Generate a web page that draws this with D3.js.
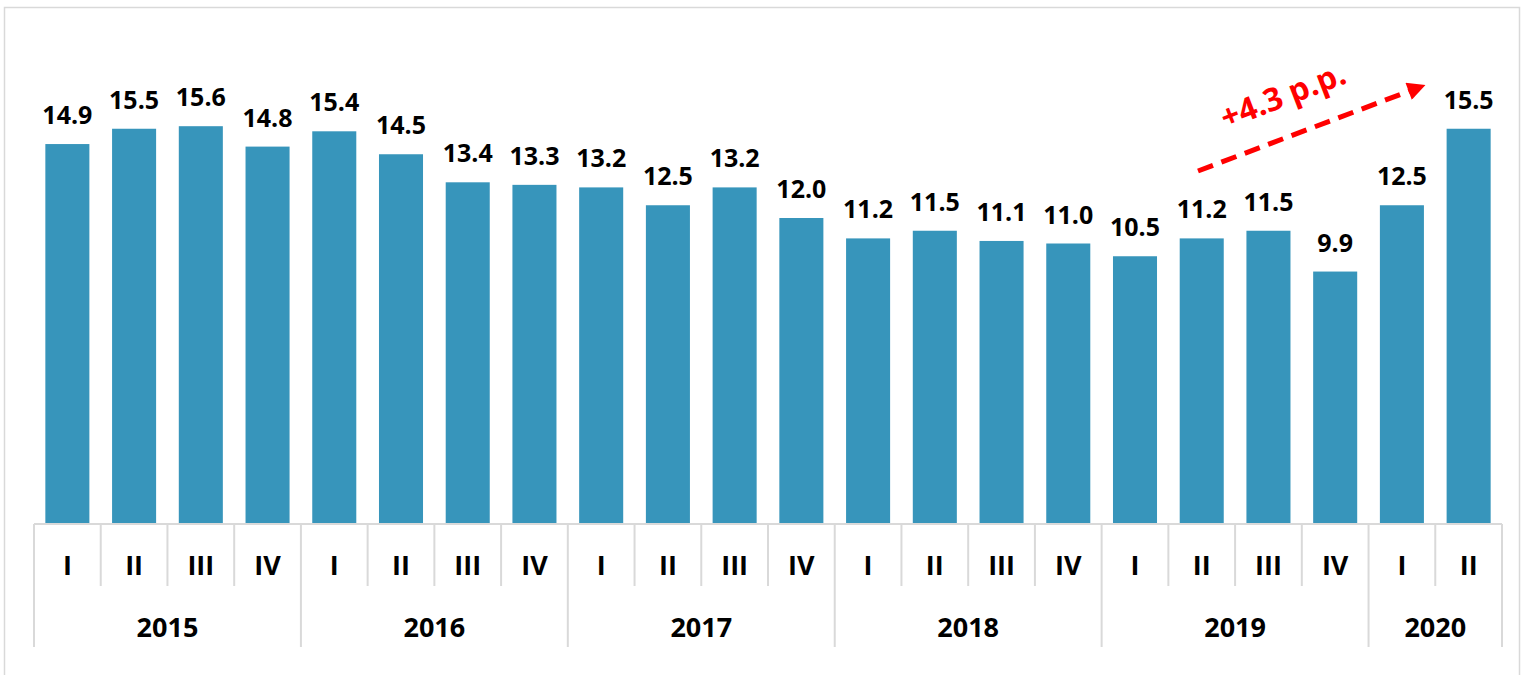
<!DOCTYPE html>
<html><head><meta charset="utf-8">
<script src="https://cdn.jsdelivr.net/npm/d3@7"></script>
<style>body{margin:0;background:#fff;}svg{display:block;}</style>
</head><body>
<script>
const years = ["2015","2016","2017","2018","2019","2020"];
const quarters = ["I","II","III","IV","I","II","III","IV","I","II","III","IV","I","II","III","IV","I","II","III","IV","I","II"];
const quarterYears = ["2015","2015","2015","2015","2016","2016","2016","2016","2017","2017","2017","2017","2018","2018","2018","2018","2019","2019","2019","2019","2020","2020"];
const values = [14.9,15.5,15.6,14.8,15.4,14.5,13.4,13.3,13.2,12.5,13.2,12.0,11.2,11.5,11.1,11.0,10.5,11.2,11.5,9.9,12.5,15.5];
const annotation = "+4.3 p.p.";

const W=1535,H=675;
const svg=d3.select("body").append("svg").attr("width",W).attr("height",H);
svg.append("rect").attr("x",4.5).attr("y",7.5).attr("width",1515).attr("height",700)
  .attr("fill","none").attr("stroke","#d9d9d9").attr("stroke-width",1.5);

const idx=d3.range(values.length);
const x=d3.scaleBand().domain(idx).range([34,1502]).paddingInner(0.34).paddingOuter(0.17);
const y=d3.scaleLinear().domain([0,20]).range([524,14]);
const font="'Open Sans', Lato, sans-serif";

svg.selectAll("rect.bar").data(idx).enter().append("rect").attr("class","bar")
  .attr("x",i=>x(i)).attr("width",x.bandwidth())
  .attr("y",i=>y(values[i])).attr("height",i=>y(0)-y(values[i]))
  .attr("fill","#3795bb");

svg.selectAll("text.val").data(idx).enter().append("text").attr("class","val")
  .attr("x",i=>x(i)+x.bandwidth()/2).attr("y",i=>y(values[i])-20)
  .attr("text-anchor","middle").attr("font-family",font).attr("font-weight","bold")
  .attr("font-size",25).attr("fill","#000")
  .text(i=>values[i].toFixed(1));

// axis
const step=x.step();
const x0=34, x1=1502;
const g=svg.append("g").attr("stroke","#d9d9d9").attr("stroke-width",2);
g.append("line").attr("x1",x0).attr("x2",x1).attr("y1",524).attr("y2",524);
for(let k=0;k<=values.length;k++){
  const bx=x0+k*step;
  const isYear = k===0 || k===values.length || quarterYears[k]!==quarterYears[k-1];
  g.append("line").attr("x1",bx).attr("x2",bx).attr("y1",524).attr("y2",isYear?647:586);
}
svg.selectAll("text.q").data(idx).enter().append("text").attr("class","q")
  .attr("x",i=>x(i)+x.bandwidth()/2).attr("y",575)
  .attr("text-anchor","middle").attr("font-family",font).attr("font-weight","bold")
  .attr("font-size",27).attr("fill","#000").text(i=>quarters[i]);

years.forEach(yr=>{
  const ids=idx.filter(i=>quarterYears[i]===yr);
  const cx=(x(ids[0])+x(ids[ids.length-1])+x.bandwidth())/2;
  svg.append("text").attr("x",cx).attr("y",637).attr("text-anchor","middle")
    .attr("font-family",font).attr("font-weight","bold").attr("font-size",27).attr("fill","#000").text(yr);
});

// annotation arrow
const defs=svg.append("defs");
defs.append("marker").attr("id","ah").attr("viewBox","0 0 10 10").attr("refX",2).attr("refY",5)
  .attr("markerWidth",4.2).attr("markerHeight",3.6).attr("orient","auto").attr("markerUnits","strokeWidth")
  .append("path").attr("d","M0,0 L10,5 L0,10 z").attr("fill","#ff0000");
svg.append("line").attr("x1",1198).attr("y1",171).attr("x2",1412).attr("y2",90)
  .attr("stroke","#ff0000").attr("stroke-width",5).attr("stroke-dasharray","16,9")
  .attr("marker-end","url(#ah)");
svg.append("text").attr("transform","translate(1287,106) rotate(-21)")
  .attr("text-anchor","middle").attr("font-family",font).attr("font-weight","bold")
  .attr("font-size",32).attr("fill","#ff0000").text(annotation);
</script>
</body></html>
